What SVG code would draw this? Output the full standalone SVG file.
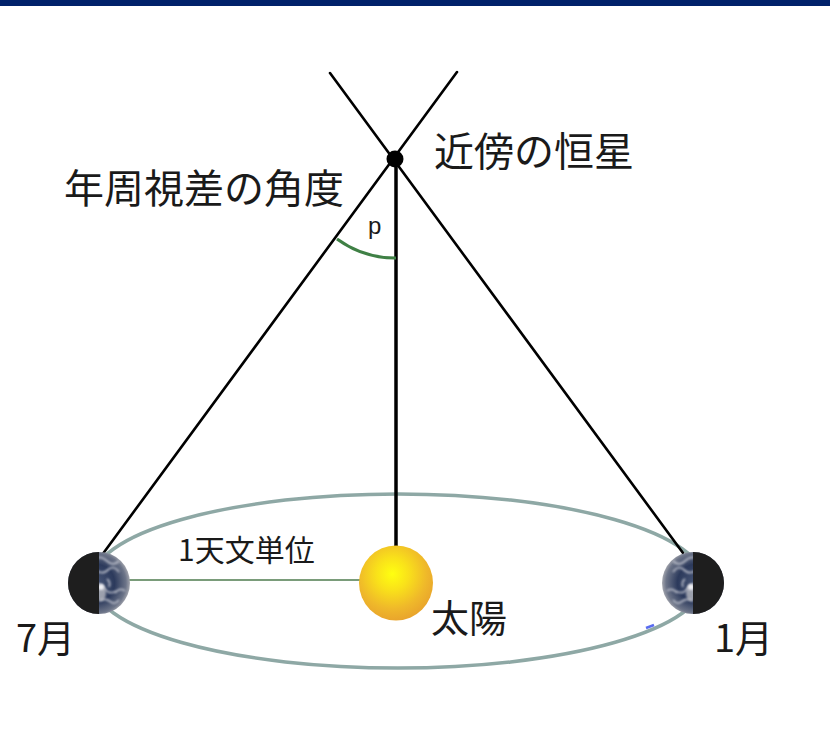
<svg xmlns="http://www.w3.org/2000/svg" width="830" height="747" viewBox="0 0 830 747">
  <style>
    .lbl { font-family: "Noto Sans CJK JP", "Noto Sans", sans-serif; fill: #1a1a1a; }
    .ray { stroke: #000; stroke-width: 2.6; fill: none; stroke-linecap: round; }
  </style>
  <defs>
    <radialGradient id="sunGrad" cx="0.45" cy="0.38" r="0.62">
      <stop offset="0" stop-color="#ffff10"/>
      <stop offset="0.35" stop-color="#f9e11a"/>
      <stop offset="0.75" stop-color="#efb82a"/>
      <stop offset="1" stop-color="#e9a52c"/>
    </radialGradient>
    <radialGradient id="earthGrad" cx="0.45" cy="0.5" r="0.55">
      <stop offset="0" stop-color="#4a5878"/>
      <stop offset="0.55" stop-color="#2c3a5c"/>
      <stop offset="0.88" stop-color="#6c7488"/>
      <stop offset="1" stop-color="#a4a6ae"/>
    </radialGradient>
    <filter id="soft" x="-20%" y="-20%" width="140%" height="140%">
      <feGaussianBlur stdDeviation="0.9"/>
    </filter>
    <clipPath id="disc"><circle r="31"/></clipPath>
    <!-- one earth disc, lit half drawn on the right, centred at 0,0 -->
    <g id="earth">
      <circle r="31" fill="url(#earthGrad)"/>
      <g clip-path="url(#disc)">
        <g fill="none" stroke="#d4d6de" stroke-width="1.8" opacity="0.75" filter="url(#soft)">
          <path d="M-6,-24 q8,-4 14,2 t12,0"/>
          <path d="M-2,-12 q6,4 12,-2 q5,-4 10,3"/>
          <path d="M-4,2 q7,-3 10,4 q4,6 12,2"/>
          <path d="M0,18 q6,-4 12,1 q4,3 8,-2"/>
          <path d="M8,-4 q4,3 2,8"/>
          <path d="M16,10 q5,-6 10,-2"/>
        </g>
        <ellipse cx="2" cy="10" rx="5" ry="8" fill="#c8c8cc" opacity="0.7" filter="url(#soft)"/>
        <circle cx="2" cy="4" r="3" fill="#f0f0f4" filter="url(#soft)"/>
        <rect x="-32" y="-32" width="32" height="64" fill="#1e1e1e"/>
      </g>
    </g>
  </defs>

  <rect x="0" y="0" width="830" height="747" fill="#fff"/>
  <rect x="0" y="0" width="830" height="6" fill="#00216a"/>

  <!-- connectors -->
  <g id="connectors">
    <ellipse cx="398" cy="581" rx="306" ry="87" fill="none" stroke="#8ea8a5" stroke-width="3.5"/>
    <path d="M646,628 l8,-3" stroke="#5a6cf0" stroke-width="2.5"/>
    <line x1="128" y1="580" x2="360" y2="580" stroke="#7a9c7a" stroke-width="1.8"/>
    <line class="ray" x1="330" y1="73" x2="683" y2="553"/>
    <line class="ray" x1="457" y1="72" x2="102" y2="555"/>
    <line x1="396" y1="159" x2="396" y2="549" stroke="#000" stroke-width="3.5"/>
    <path d="M337,239 A99,99 0 0 0 396,258" fill="none" stroke="#3f8045" stroke-width="3"/>
  </g>

  <g id="star">
    <circle cx="395" cy="159" r="8.5" fill="#000"/>
    <text class="lbl" x="434" y="166" font-size="40">近傍の恒星</text>
  </g>

  <g id="angle">
    <text class="lbl" x="64" y="203" font-size="40">年周視差の角度</text>
    <text x="368" y="234" font-family="Liberation Sans, Arial, sans-serif" font-size="24" fill="#1a1a1a">p</text>
  </g>

  <g id="sun">
    <ellipse cx="396" cy="583" rx="37" ry="37.5" fill="url(#sunGrad)"/>
    <text class="lbl" x="431" y="632" font-size="38">太陽</text>
  </g>

  <g id="au-label">
    <text class="lbl" x="178" y="561" font-size="30">1天文単位</text>
  </g>

  <g id="earth-july">
    <use href="#earth" x="99" y="583"/>
    <text class="lbl" x="16" y="652" font-size="38">7月</text>
  </g>

  <g id="earth-january">
    <use href="#earth" transform="translate(693,583) scale(-1,1)"/>
    <text class="lbl" x="714" y="652" font-size="38">1月</text>
  </g>
</svg>
